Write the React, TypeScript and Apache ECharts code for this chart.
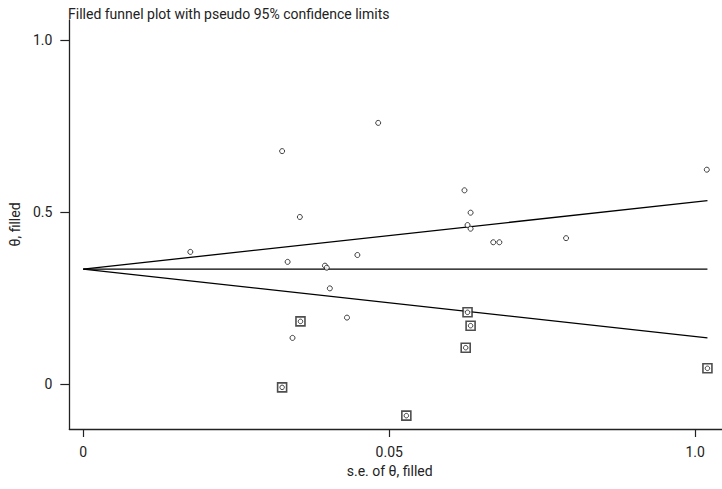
import React, { useEffect, useRef } from "react";
import * as echarts from "echarts";

// Observed studies: standard error (x) and effect theta (y)
const obsSe = [
  0.0175, 0.0325, 0.0354, 0.0334, 0.0395, 0.0398, 0.0403, 0.0448, 0.0482,
  0.0623, 0.0633, 0.0628, 0.0633, 0.067, 0.068, 0.0789, 0.1019, 0.0431, 0.0342,
];
const obsTheta = [
  0.384, 0.677, 0.4855, 0.355, 0.344, 0.338, 0.278, 0.375, 0.759,
  0.563, 0.498, 0.462, 0.4515, 0.412, 0.412, 0.424, 0.623, 0.193, 0.134,
];

// Imputed ("filled") studies
const fillSe = [0.0355, 0.0325, 0.0528, 0.0628, 0.0633, 0.0625, 0.102];
const fillTheta = [0.182, -0.0097, -0.092, 0.2084, 0.1695, 0.1055, 0.0456];

// Pseudo 95% confidence limits (funnel)
const funnelSe = [0, 0.102];
const centerTheta = [0.334, 0.334];
const upperTheta = [0.334, 0.533];
const lowerTheta = [0.334, 0.134];

// Axis ticks
const xTicks = [0, 0.05, 0.1];
const xTickLabels = ["0", "0.05", "1.0"];
const yTicks = [0, 0.5, 1];
const yTickLabels = ["0", "0.5", "1.0"];

const FONT = "Roboto";

export default function App() {
  const ref = useRef<HTMLDivElement>(null);
  useEffect(() => {
    if (!ref.current) return;
    const chart = echarts.init(ref.current, null, { renderer: "svg" });
    const pair = (xs: number[], ys: number[]) => xs.map((x, i) => [x, ys[i]]);
    const lineStyle = { color: "#000", width: 1.3 };
    chart.setOption({
      animation: false,
      backgroundColor: "#fff",
      title: {
        text: "Filled funnel plot with pseudo 95% confidence limits",
        left: 63,
        top: 2,
        textStyle: { fontFamily: FONT, fontSize: 14, fontWeight: "normal", color: "#222" },
      },
      grid: { left: 65, right: 0, top: 20, bottom: 60, containLabel: false },
      xAxis: {
        type: "value",
        min: -0.00227,
        max: 0.10438,
        name: "s.e. of θ, filled",
        nameLocation: "middle",
        nameGap: 33,
        nameTextStyle: { fontFamily: FONT, fontSize: 14, color: "#222", padding: [0, 12, 0, 0] },
        splitLine: { show: false },
        axisLine: { show: true, onZero: false, lineStyle: { color: "#222", width: 1.3 } },
        axisTick: {
          show: true,
          length: 8,
          customValues: xTicks,
          lineStyle: { color: "#222", width: 1.2 },
        },
        axisLabel: {
          customValues: xTicks,
          margin: 16,
          fontFamily: FONT,
          fontSize: 14,
          color: "#222",
          formatter: (v: number) => {
            const i = xTicks.findIndex((t) => Math.abs(t - v) < 1e-9);
            return i >= 0 ? xTickLabels[i] : "";
          },
        },
      },
      yAxis: {
        type: "value",
        min: -0.1308,
        max: 1.0581,
        name: "θ, filled",
        nameLocation: "middle",
        nameGap: 41,
        nameTextStyle: { fontFamily: FONT, fontSize: 14, color: "#222" },
        splitLine: { show: false },
        axisLine: { show: true, onZero: false, lineStyle: { color: "#222", width: 1.3 } },
        axisTick: {
          show: true,
          length: 9,
          customValues: yTicks,
          lineStyle: { color: "#222", width: 1.2 },
        },
        axisLabel: {
          customValues: yTicks,
          margin: 17,
          fontFamily: FONT,
          fontSize: 14,
          color: "#222",
          formatter: (v: number) => {
            const i = yTicks.findIndex((t) => Math.abs(t - v) < 1e-9);
            return i >= 0 ? yTickLabels[i] : "";
          },
        },
      },
      series: [
        { type: "line", data: pair(funnelSe, centerTheta), symbol: "none", lineStyle, z: 1 },
        { type: "line", data: pair(funnelSe, upperTheta), symbol: "none", lineStyle, z: 1 },
        { type: "line", data: pair(funnelSe, lowerTheta), symbol: "none", lineStyle, z: 1 },
        {
          type: "scatter",
          data: pair(fillSe, fillTheta),
          symbol: "rect",
          symbolSize: 9,
          itemStyle: { color: "#fff", borderColor: "#222", borderWidth: 1.6 },
          z: 3,
        },
        {
          type: "scatter",
          data: pair(fillSe, fillTheta),
          symbol: "circle",
          symbolSize: 4.5,
          itemStyle: { color: "#fff", borderColor: "#111", borderWidth: 1 },
          z: 4,
        },
        {
          type: "scatter",
          data: pair(obsSe, obsTheta),
          symbol: "circle",
          symbolSize: 5,
          itemStyle: { color: "#fff", borderColor: "#111", borderWidth: 1 },
          z: 4,
        },
      ],
    });
    return () => chart.dispose();
  }, []);
  return (
    <div
      ref={ref}
      style={{ position: "fixed", left: 0, top: 0, width: 722, height: 489 }}
    />
  );
}
